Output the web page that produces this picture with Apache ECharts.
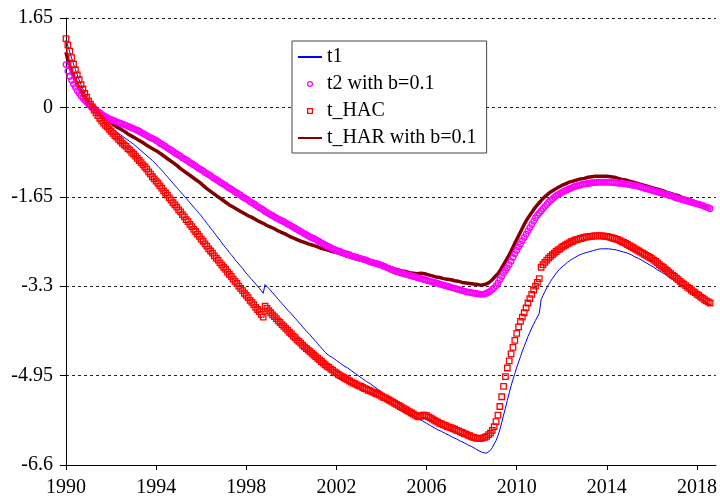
<!DOCTYPE html>
<html>
<head>
<meta charset="utf-8">
<script src="https://cdn.jsdelivr.net/npm/echarts@6/dist/echarts.min.js"></script>
<style>
  html, body { margin: 0; padding: 0; background: #fff; }
  #chart { width: 720px; height: 499px; }
</style>
</head>
<body>
<div id="chart"></div>
<script>
// Monthly statistics, January 1990 onwards (one value per month).
const startYear = 1990;
const monthsPerYear = 12;
const yearTicks = [1990, 1994, 1998, 2002, 2006, 2010, 2014, 2018];
const seriesNames = ['t1', 't2 with b=0.1', 't_HAC', 't_HAR with b=0.1'];

const t1Values = [
  1.24, 1.13, 1.02, 0.91, 0.80, 0.70, 0.60, 0.51, 0.42, 0.34, 0.26, 0.19,
  0.12, 0.06, 0.01, -0.04, -0.09, -0.14, -0.18, -0.22, -0.26, -0.29, -0.32, -0.35,
  -0.38, -0.40, -0.43, -0.45, -0.48, -0.50, -0.53, -0.55, -0.58, -0.60, -0.63, -0.65,
  -0.68, -0.71, -0.74, -0.77, -0.80, -0.83, -0.86, -0.89, -0.92, -0.95, -0.98, -1.01,
  -1.05, -1.09, -1.12, -1.16, -1.20, -1.24, -1.28, -1.32, -1.36, -1.40, -1.44, -1.48,
  -1.52, -1.56, -1.60, -1.64, -1.68, -1.72, -1.76, -1.80, -1.84, -1.88, -1.92, -1.96,
  -2.00, -2.05, -2.09, -2.14, -2.18, -2.23, -2.27, -2.32, -2.36, -2.41, -2.45, -2.50,
  -2.55, -2.59, -2.63, -2.68, -2.72, -2.76, -2.81, -2.85, -2.89, -2.93, -2.97, -3.02,
  -3.06, -3.10, -3.14, -3.18, -3.22, -3.26, -3.30, -3.34, -3.38, -3.43, -3.27, -3.30,
  -3.34, -3.38, -3.42, -3.46, -3.50, -3.54, -3.58, -3.62, -3.66, -3.70, -3.74, -3.77,
  -3.81, -3.85, -3.89, -3.93, -3.97, -4.01, -4.05, -4.09, -4.13, -4.16, -4.20, -4.24,
  -4.28, -4.32, -4.36, -4.40, -4.44, -4.48, -4.52, -4.55, -4.58, -4.60, -4.62, -4.65,
  -4.67, -4.69, -4.72, -4.74, -4.77, -4.79, -4.81, -4.84, -4.86, -4.89, -4.91, -4.93,
  -4.96, -4.98, -5.01, -5.03, -5.06, -5.08, -5.10, -5.13, -5.15, -5.18, -5.20, -5.22,
  -5.25, -5.27, -5.30, -5.32, -5.35, -5.37, -5.40, -5.42, -5.45, -5.47, -5.50, -5.52,
  -5.55, -5.57, -5.60, -5.62, -5.65, -5.67, -5.70, -5.72, -5.75, -5.77, -5.79, -5.81,
  -5.83, -5.85, -5.87, -5.89, -5.91, -5.93, -5.95, -5.96, -5.98, -6.00, -6.02, -6.03,
  -6.05, -6.07, -6.09, -6.10, -6.12, -6.14, -6.16, -6.17, -6.19, -6.21, -6.23, -6.24,
  -6.26, -6.28, -6.30, -6.32, -6.34, -6.36, -6.37, -6.38, -6.38, -6.36, -6.33, -6.28,
  -6.21, -6.15, -6.06, -5.95, -5.82, -5.68, -5.55, -5.41, -5.27, -5.14, -5.02, -4.91,
  -4.80, -4.70, -4.60, -4.50, -4.41, -4.32, -4.23, -4.15, -4.07, -4.00, -3.93, -3.87,
  -3.80, -3.55, -3.47, -3.40, -3.33, -3.27, -3.21, -3.16, -3.11, -3.06, -3.02, -2.98,
  -2.95, -2.92, -2.89, -2.86, -2.84, -2.81, -2.79, -2.77, -2.75, -2.73, -2.72, -2.70,
  -2.69, -2.68, -2.67, -2.66, -2.65, -2.64, -2.63, -2.62, -2.62, -2.61, -2.61, -2.61,
  -2.61, -2.61, -2.61, -2.62, -2.62, -2.63, -2.64, -2.65, -2.66, -2.67, -2.68, -2.69,
  -2.71, -2.72, -2.74, -2.76, -2.77, -2.79, -2.81, -2.83, -2.85, -2.87, -2.89, -2.91,
  -2.93, -2.95, -2.97, -3.00, -3.02, -3.04, -3.06, -3.08, -3.11, -3.13, -3.15, -3.17,
  -3.20, -3.22, -3.24, -3.27, -3.29, -3.31, -3.34, -3.36, -3.38, -3.41, -3.43, -3.45,
  -3.48, -3.50, -3.53, -3.55, -3.58, -3.60, -3.63, -3.65
];

const t2Values = [
  0.79, 0.67, 0.57, 0.50, 0.43, 0.37, 0.31, 0.26, 0.21, 0.17, 0.13, 0.10,
  0.06, 0.03, 0.00, -0.02, -0.05, -0.08, -0.10, -0.13, -0.15, -0.17, -0.19, -0.21,
  -0.22, -0.24, -0.25, -0.27, -0.28, -0.29, -0.31, -0.32, -0.33, -0.35, -0.36, -0.38,
  -0.39, -0.41, -0.42, -0.44, -0.46, -0.48, -0.50, -0.52, -0.54, -0.56, -0.57, -0.59,
  -0.61, -0.63, -0.66, -0.68, -0.70, -0.72, -0.75, -0.77, -0.79, -0.81, -0.84, -0.86,
  -0.88, -0.90, -0.93, -0.95, -0.97, -0.99, -1.02, -1.04, -1.06, -1.08, -1.11, -1.13,
  -1.15, -1.17, -1.20, -1.22, -1.24, -1.26, -1.29, -1.31, -1.33, -1.35, -1.38, -1.40,
  -1.42, -1.44, -1.47, -1.49, -1.51, -1.53, -1.56, -1.58, -1.60, -1.62, -1.65, -1.67,
  -1.69, -1.71, -1.74, -1.76, -1.78, -1.80, -1.83, -1.85, -1.87, -1.89, -1.92, -1.94,
  -1.96, -1.98, -2.00, -2.02, -2.04, -2.06, -2.08, -2.09, -2.11, -2.13, -2.15, -2.17,
  -2.19, -2.21, -2.23, -2.25, -2.27, -2.29, -2.31, -2.33, -2.35, -2.37, -2.39, -2.41,
  -2.42, -2.44, -2.46, -2.48, -2.50, -2.52, -2.54, -2.56, -2.57, -2.59, -2.61, -2.62,
  -2.64, -2.65, -2.66, -2.68, -2.69, -2.70, -2.71, -2.72, -2.74, -2.75, -2.76, -2.77,
  -2.78, -2.79, -2.80, -2.81, -2.82, -2.84, -2.85, -2.86, -2.87, -2.88, -2.89, -2.90,
  -2.91, -2.93, -2.94, -2.96, -2.97, -2.99, -3.00, -3.02, -3.03, -3.04, -3.05, -3.06,
  -3.07, -3.08, -3.09, -3.10, -3.11, -3.12, -3.13, -3.14, -3.15, -3.16, -3.17, -3.18,
  -3.19, -3.20, -3.21, -3.22, -3.23, -3.24, -3.25, -3.26, -3.27, -3.28, -3.29, -3.30,
  -3.31, -3.32, -3.33, -3.34, -3.35, -3.36, -3.37, -3.38, -3.39, -3.40, -3.41, -3.41,
  -3.42, -3.43, -3.43, -3.44, -3.44, -3.45, -3.45, -3.44, -3.43, -3.41, -3.39, -3.36,
  -3.33, -3.29, -3.24, -3.18, -3.12, -3.06, -3.01, -2.96, -2.90, -2.84, -2.77, -2.70,
  -2.64, -2.58, -2.52, -2.46, -2.40, -2.34, -2.28, -2.22, -2.16, -2.10, -2.04, -1.99,
  -1.95, -1.91, -1.87, -1.83, -1.79, -1.75, -1.72, -1.69, -1.66, -1.63, -1.61, -1.59,
  -1.57, -1.55, -1.53, -1.52, -1.50, -1.49, -1.47, -1.46, -1.45, -1.44, -1.43, -1.42,
  -1.41, -1.41, -1.40, -1.40, -1.39, -1.39, -1.39, -1.38, -1.38, -1.38, -1.38, -1.38,
  -1.38, -1.38, -1.38, -1.39, -1.39, -1.39, -1.40, -1.40, -1.40, -1.41, -1.41, -1.42,
  -1.42, -1.43, -1.44, -1.44, -1.45, -1.46, -1.47, -1.48, -1.49, -1.50, -1.51, -1.52,
  -1.53, -1.54, -1.55, -1.56, -1.57, -1.58, -1.59, -1.60, -1.61, -1.62, -1.63, -1.64,
  -1.66, -1.67, -1.68, -1.69, -1.70, -1.71, -1.72, -1.73, -1.74, -1.75, -1.76, -1.77,
  -1.78, -1.79, -1.80, -1.81, -1.83, -1.84, -1.85, -1.87
];

const hacValues = [
  1.27, 1.15, 1.04, 0.92, 0.80, 0.69, 0.60, 0.51, 0.42, 0.34, 0.26, 0.19,
  0.12, 0.06, 0.01, -0.05, -0.10, -0.15, -0.20, -0.25, -0.29, -0.33, -0.36, -0.40,
  -0.44, -0.48, -0.52, -0.55, -0.59, -0.62, -0.66, -0.69, -0.72, -0.76, -0.79, -0.83,
  -0.86, -0.90, -0.94, -0.98, -1.02, -1.06, -1.10, -1.14, -1.19, -1.23, -1.28, -1.32,
  -1.36, -1.40, -1.45, -1.49, -1.54, -1.58, -1.62, -1.67, -1.71, -1.76, -1.80, -1.84,
  -1.89, -1.93, -1.98, -2.02, -2.07, -2.11, -2.16, -2.20, -2.25, -2.29, -2.34, -2.38,
  -2.43, -2.47, -2.52, -2.56, -2.61, -2.65, -2.69, -2.74, -2.78, -2.82, -2.87, -2.91,
  -2.95, -2.99, -3.04, -3.08, -3.12, -3.17, -3.21, -3.25, -3.30, -3.34, -3.38, -3.43,
  -3.47, -3.51, -3.56, -3.60, -3.64, -3.69, -3.73, -3.77, -3.82, -3.87, -3.67, -3.71,
  -3.75, -3.79, -3.83, -3.86, -3.90, -3.94, -3.97, -4.01, -4.04, -4.08, -4.11, -4.15,
  -4.18, -4.22, -4.25, -4.29, -4.32, -4.35, -4.39, -4.42, -4.45, -4.48, -4.51, -4.54,
  -4.57, -4.60, -4.63, -4.66, -4.69, -4.72, -4.75, -4.78, -4.80, -4.83, -4.85, -4.88,
  -4.90, -4.93, -4.95, -4.97, -4.99, -5.01, -5.03, -5.05, -5.07, -5.09, -5.10, -5.12,
  -5.14, -5.15, -5.17, -5.19, -5.20, -5.22, -5.23, -5.25, -5.26, -5.28, -5.29, -5.31,
  -5.33, -5.35, -5.36, -5.38, -5.40, -5.42, -5.44, -5.46, -5.48, -5.50, -5.52, -5.54,
  -5.56, -5.58, -5.60, -5.62, -5.64, -5.66, -5.68, -5.70, -5.71, -5.70, -5.68, -5.68,
  -5.69, -5.71, -5.73, -5.75, -5.77, -5.79, -5.81, -5.83, -5.84, -5.86, -5.87, -5.89,
  -5.90, -5.91, -5.93, -5.94, -5.96, -5.97, -5.99, -6.00, -6.02, -6.03, -6.05, -6.06,
  -6.08, -6.09, -6.10, -6.11, -6.11, -6.11, -6.10, -6.09, -6.07, -6.04, -6.01, -5.96,
  -5.89, -5.80, -5.68, -5.52, -5.34, -5.15, -4.97, -4.81, -4.68, -4.55, -4.43, -4.30,
  -4.17, -4.05, -3.95, -3.87, -3.79, -3.70, -3.61, -3.53, -3.45, -3.37, -3.30, -3.23,
  -3.16, -2.95, -2.90, -2.86, -2.82, -2.78, -2.75, -2.72, -2.69, -2.66, -2.63, -2.61,
  -2.58, -2.56, -2.54, -2.52, -2.50, -2.48, -2.47, -2.45, -2.44, -2.43, -2.42, -2.41,
  -2.40, -2.39, -2.39, -2.38, -2.38, -2.37, -2.37, -2.37, -2.37, -2.37, -2.37, -2.38,
  -2.38, -2.39, -2.40, -2.41, -2.42, -2.43, -2.44, -2.46, -2.48, -2.49, -2.51, -2.53,
  -2.55, -2.57, -2.59, -2.61, -2.63, -2.65, -2.67, -2.69, -2.71, -2.73, -2.75, -2.77,
  -2.79, -2.82, -2.84, -2.87, -2.90, -2.93, -2.95, -2.98, -3.01, -3.04, -3.07, -3.10,
  -3.12, -3.15, -3.18, -3.21, -3.24, -3.26, -3.29, -3.32, -3.34, -3.37, -3.40, -3.42,
  -3.45, -3.47, -3.50, -3.52, -3.55, -3.57, -3.59, -3.61
];

const harValues = [
  1.02, 0.87, 0.76, 0.66, 0.57, 0.50, 0.42, 0.36, 0.30, 0.24, 0.18, 0.13,
  0.09, 0.06, 0.03, -0.01, -0.04, -0.07, -0.10, -0.13, -0.16, -0.19, -0.22, -0.25,
  -0.28, -0.31, -0.33, -0.36, -0.38, -0.40, -0.42, -0.44, -0.47, -0.49, -0.51, -0.53,
  -0.55, -0.57, -0.59, -0.61, -0.63, -0.65, -0.67, -0.70, -0.72, -0.74, -0.76, -0.78,
  -0.80, -0.82, -0.85, -0.87, -0.90, -0.92, -0.95, -0.97, -1.00, -1.02, -1.05, -1.07,
  -1.10, -1.13, -1.15, -1.18, -1.20, -1.23, -1.25, -1.28, -1.30, -1.33, -1.35, -1.38,
  -1.41, -1.44, -1.47, -1.50, -1.53, -1.55, -1.58, -1.60, -1.63, -1.65, -1.68, -1.70,
  -1.73, -1.75, -1.77, -1.80, -1.82, -1.84, -1.86, -1.88, -1.90, -1.92, -1.94, -1.96,
  -1.98, -2.00, -2.02, -2.03, -2.05, -2.07, -2.09, -2.11, -2.12, -2.14, -2.16, -2.18,
  -2.19, -2.21, -2.23, -2.24, -2.26, -2.28, -2.29, -2.31, -2.33, -2.34, -2.36, -2.38,
  -2.39, -2.41, -2.42, -2.44, -2.45, -2.47, -2.48, -2.49, -2.51, -2.52, -2.53, -2.54,
  -2.55, -2.56, -2.57, -2.59, -2.60, -2.61, -2.62, -2.63, -2.64, -2.65, -2.66, -2.67,
  -2.68, -2.69, -2.70, -2.71, -2.73, -2.74, -2.75, -2.76, -2.77, -2.78, -2.79, -2.80,
  -2.81, -2.82, -2.83, -2.83, -2.84, -2.85, -2.86, -2.87, -2.88, -2.89, -2.89, -2.90,
  -2.91, -2.92, -2.93, -2.94, -2.95, -2.96, -2.97, -2.98, -2.99, -3.00, -3.01, -3.02,
  -3.03, -3.03, -3.04, -3.05, -3.05, -3.06, -3.06, -3.07, -3.07, -3.06, -3.06, -3.07,
  -3.08, -3.09, -3.10, -3.11, -3.12, -3.13, -3.13, -3.14, -3.15, -3.16, -3.16, -3.17,
  -3.18, -3.18, -3.19, -3.20, -3.21, -3.21, -3.22, -3.23, -3.24, -3.24, -3.25, -3.25,
  -3.26, -3.26, -3.27, -3.27, -3.27, -3.28, -3.28, -3.27, -3.26, -3.24, -3.22, -3.18,
  -3.14, -3.11, -3.07, -3.02, -2.96, -2.90, -2.84, -2.78, -2.72, -2.65, -2.58, -2.51,
  -2.44, -2.37, -2.30, -2.23, -2.16, -2.10, -2.04, -1.99, -1.94, -1.89, -1.84, -1.80,
  -1.76, -1.72, -1.68, -1.65, -1.62, -1.59, -1.56, -1.54, -1.52, -1.50, -1.48, -1.46,
  -1.44, -1.43, -1.41, -1.40, -1.38, -1.37, -1.36, -1.35, -1.34, -1.33, -1.32, -1.31,
  -1.31, -1.30, -1.29, -1.29, -1.28, -1.28, -1.27, -1.27, -1.27, -1.27, -1.27, -1.27,
  -1.27, -1.28, -1.28, -1.29, -1.29, -1.30, -1.31, -1.32, -1.33, -1.33, -1.34, -1.35,
  -1.36, -1.37, -1.38, -1.39, -1.40, -1.41, -1.42, -1.43, -1.44, -1.45, -1.46, -1.47,
  -1.48, -1.49, -1.50, -1.51, -1.52, -1.53, -1.54, -1.55, -1.57, -1.58, -1.59, -1.60,
  -1.61, -1.62, -1.63, -1.64, -1.66, -1.67, -1.68, -1.69, -1.70, -1.72, -1.73, -1.74,
  -1.76, -1.77, -1.79, -1.81, -1.83, -1.85, -1.87, -1.90
];

// Pair each monthly value with its decimal-year position on the x axis.
function toPoints(values) {
  return values.map((v, i) => [startYear + i / monthsPerYear, v]);
}

const serifFont = 'Liberation Serif';
const hollow = 'rgba(0,0,0,0)';
// Shared rich-text style for every label so the serif face is applied per fragment.
const serifRich = { s: { fontFamily: serifFont, fontSize: 20, color: '#000' } };

const option = {
  animation: true,
  animationDuration: 10,
  animationDurationUpdate: 10,
  animationEasing: 'linear',
  backgroundColor: '#ffffff',
  textStyle: { fontFamily: serifFont, fontSize: 20 },
  grid: { left: 66, right: 3, top: 18, bottom: 34 },
  xAxis: {
    type: 'value',
    min: 1990,
    max: 2018.84,
    axisLine: { show: true, onZero: false, lineStyle: { color: '#000', width: 1 } },
    axisTick: { show: true, length: 5, customValues: yearTicks, lineStyle: { color: '#000', width: 1 } },
    axisLabel: {
      customValues: yearTicks,
      formatter: v => '{s|' + Math.round(v) + '}',
      margin: 13,
      fontFamily: serifFont,
      fontSize: 20,
      rich: serifRich
    },
    splitLine: { show: false }
  },
  yAxis: {
    type: 'value',
    min: -6.6,
    max: 1.65,
    interval: 1.65,
    axisLine: { show: true, onZero: false, lineStyle: { color: '#000', width: 1 } },
    axisTick: { show: true, length: 6, lineStyle: { color: '#000', width: 1 } },
    axisLabel: {
      formatter: '{s|{value}}',
      margin: 13,
      fontFamily: serifFont,
      fontSize: 20,
      rich: serifRich
    },
    splitLine: { show: true, lineStyle: { color: '#222', width: 1, type: [3, 3] } }
  },
  legend: {
    orient: 'vertical',
    left: 292,
    top: 41,
    selectedMode: false,
    backgroundColor: '#fff',
    borderColor: '#444',
    borderWidth: 1,
    padding: [6, 10, 5, 5],
    itemGap: 7,
    itemWidth: 24,
    itemHeight: 6,
    formatter: '{s|{name}}',
    textStyle: { fontFamily: serifFont, fontSize: 20, rich: serifRich },
    data: [
      { name: seriesNames[0], itemStyle: { opacity: 0 } },
      { name: seriesNames[1], itemStyle: { color: hollow, borderColor: '#ff00ff', borderWidth: 1.3 } },
      { name: seriesNames[2], itemStyle: { color: hollow, borderColor: '#ff0000', borderWidth: 1.3 } },
      { name: seriesNames[3], itemStyle: { opacity: 0 } }
    ]
  },
  series: [
    {
      name: seriesNames[0],
      type: 'line',
      silent: true,
      z: 2,
      symbol: 'none',
      data: toPoints(t1Values),
      itemStyle: { color: '#0000ff' },
      lineStyle: { color: '#0000ff', width: 1 }
    },
    {
      name: seriesNames[1],
      type: 'line',
      silent: true,
      z: 4,
      symbol: 'circle',
      symbolSize: 5.5,
      showSymbol: true,
      showAllSymbol: true,
      data: toPoints(t2Values),
      itemStyle: { color: hollow, borderColor: '#ff00ff', borderWidth: 1.3 },
      lineStyle: { width: 0, opacity: 0 }
    },
    {
      name: seriesNames[2],
      type: 'line',
      silent: true,
      z: 5,
      symbol: 'rect',
      symbolSize: 5.5,
      showSymbol: true,
      showAllSymbol: true,
      data: toPoints(hacValues),
      itemStyle: { color: hollow, borderColor: '#ff0000', borderWidth: 1.3 },
      lineStyle: { width: 0, opacity: 0 }
    },
    {
      name: seriesNames[3],
      type: 'line',
      silent: true,
      z: 3,
      symbol: 'none',
      data: toPoints(harValues),
      itemStyle: { color: '#800000' },
      lineStyle: { color: '#800000', width: 3.5 }
    }
  ]
};

const chart = echarts.init(document.getElementById('chart'));
chart.setOption(option);

// Repaint once the serif face is confirmed available.
if (document.fonts && document.fonts.load) {
  document.fonts.load('20px "' + serifFont + '"', '1990').then(() => {
    chart.setOption(option, true);
  });
}
</script>
</body>
</html>
